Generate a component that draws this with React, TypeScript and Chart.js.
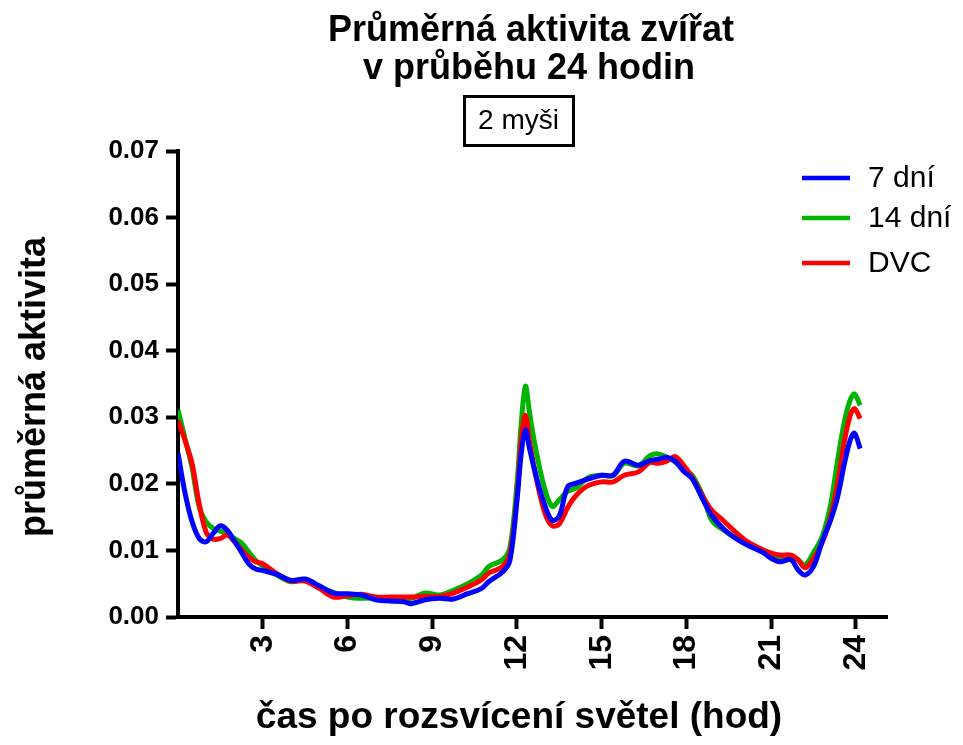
import React, { useEffect, useRef } from "react";
import { Chart, registerables } from "chart.js";

Chart.register(...registerables);

const FONT = "'Liberation Sans', Arial, Helvetica, sans-serif";

const TITLE_LINES = ["Průměrná aktivita zvířat", "v průběhu 24 hodin"];
const SUBTITLE = "2 myši";
const X_TITLE = "čas po rozsvícení světel (hod)";
const Y_TITLE = "průměrná aktivita";
const SERIES_LABELS = ["7 dní", "14 dní", "DVC"];
const SERIES_COLORS = ["#0000ff", "#00b400", "#ff0000"];

const X_TICKS = [3, 6, 9, 12, 15, 18, 21, 24];
const Y_TICKS = [0, 0.01, 0.02, 0.03, 0.04, 0.05, 0.06, 0.07];

const HOURS = [
  0, 0.25, 0.5, 0.75, 1.0, 1.25, 1.5, 1.75, 2.0, 2.25, 2.5, 2.75, 3.0, 3.5, 4.0, 4.5,
  5.0, 5.5, 6.0, 6.5, 7.0, 7.5, 8.0, 8.25, 8.75, 9.25, 9.75, 10.25, 10.75, 11.0, 11.5,
  11.75, 12.0, 12.15, 12.3, 12.45, 12.7, 13.0, 13.25, 13.5, 13.8, 14.1, 14.5, 15.0, 15.4,
  15.8, 16.3, 16.7, 17.0, 17.3, 17.6, 17.9, 18.2, 18.6, 18.9, 19.3, 19.75, 20.2, 20.7,
  21.0, 21.3, 21.7, 21.95, 22.2, 22.5, 22.8, 23.1, 23.35, 23.6, 23.8, 23.95, 24.15,
];

const DAYS7 = [
  0.0246, 0.0186, 0.0143, 0.0118, 0.0113, 0.0126, 0.0137, 0.013, 0.0114, 0.0097, 0.008,
  0.0072, 0.007, 0.0064, 0.0055, 0.0057, 0.0047, 0.0036, 0.0035, 0.0033, 0.0026, 0.0024,
  0.0023, 0.002, 0.0026, 0.0028, 0.0027, 0.0035, 0.0043, 0.0053, 0.0068, 0.0085, 0.0175,
  0.0245, 0.0281, 0.0252, 0.0208, 0.0166, 0.0145, 0.0152, 0.0196, 0.0201, 0.0207, 0.0213,
  0.0213, 0.0234, 0.0228, 0.0235, 0.0237, 0.024, 0.0234, 0.0219, 0.0208, 0.0175, 0.0152,
  0.0133, 0.0118, 0.0107, 0.0097, 0.0088, 0.0083, 0.0086, 0.0071, 0.0063, 0.0076, 0.0113,
  0.0145, 0.018, 0.0232, 0.0266, 0.0276, 0.0253,
];

const DAYS14 = [
  0.0311, 0.0268, 0.0224, 0.0165, 0.0143, 0.0133, 0.0129, 0.0124, 0.0118, 0.0111, 0.0098,
  0.0085, 0.0077, 0.0063, 0.0053, 0.0056, 0.0045, 0.0037, 0.003, 0.0028, 0.0029, 0.0028,
  0.0027, 0.0028, 0.0036, 0.0033, 0.004, 0.005, 0.0063, 0.0076, 0.0086, 0.0104, 0.02,
  0.029, 0.0347, 0.0305, 0.0245, 0.019, 0.0166, 0.0176, 0.0189, 0.0194, 0.0209, 0.0213,
  0.0212, 0.0231, 0.0227, 0.0242, 0.0245, 0.024, 0.0233, 0.0222, 0.0213, 0.018, 0.0145,
  0.0131, 0.0118, 0.0108, 0.0098, 0.0091, 0.0088, 0.0091, 0.0086, 0.0078, 0.0097, 0.012,
  0.0168, 0.0235, 0.0295, 0.0326, 0.0335, 0.0318,
];

const DVC = [
  0.0295, 0.0265, 0.023, 0.017, 0.0127, 0.0117, 0.0118, 0.0123, 0.0113, 0.0101, 0.009,
  0.0083, 0.008, 0.0065, 0.0054, 0.0054, 0.0043, 0.003, 0.0032, 0.0034, 0.003, 0.003,
  0.003, 0.003, 0.0031, 0.0031, 0.0036, 0.0045, 0.0056, 0.0066, 0.0076, 0.0095, 0.018,
  0.0266, 0.0303, 0.0262, 0.0205, 0.0155, 0.0137, 0.014, 0.0165, 0.0183, 0.0197, 0.0203,
  0.0203, 0.0213, 0.0218, 0.0232, 0.0231, 0.0234, 0.0241, 0.0228, 0.021, 0.018, 0.016,
  0.0145, 0.0127, 0.0112, 0.0101, 0.0096, 0.0093, 0.0093, 0.0086, 0.0074, 0.0088, 0.0111,
  0.015, 0.02, 0.0266, 0.0303, 0.0313, 0.0298,
];

const SERIES = [DAYS7, DAYS14, DVC];
const DRAW_ORDER = [0, 2, 1];

const decorPlugin = {
  id: "decor",
  afterDraw(chart: any) {
    const ctx = chart.ctx as CanvasRenderingContext2D;
    ctx.save();
    ctx.fillStyle = "#000";
    ctx.textAlign = "center";
    ctx.textBaseline = "alphabetic";
    ctx.font = `bold 36px ${FONT}`;
    ctx.fillText(TITLE_LINES[0], 531, 41);
    ctx.fillText(TITLE_LINES[1], 529, 79);

    // boxed subtitle
    ctx.font = `28px ${FONT}`;
    ctx.fillText(SUBTITLE, 518.5, 129);
    ctx.lineWidth = 3;
    ctx.strokeStyle = "#000";
    ctx.strokeRect(464.5, 96.5, 109, 49);

    // axis titles
    ctx.font = `bold 37px ${FONT}`;
    ctx.textBaseline = "middle";
    ctx.fillText(X_TITLE, 519, 718);
    ctx.save();
    ctx.translate(35, 387);
    ctx.rotate(-Math.PI / 2);
    ctx.font = `bold 36px ${FONT}`;
    ctx.fillText(Y_TITLE, 0, 0);
    ctx.restore();

    // legend
    const ys = [178, 218, 263];
    ctx.textAlign = "left";
    ctx.font = `30px ${FONT}`;
    SERIES_LABELS.forEach((lab, i) => {
      ctx.strokeStyle = SERIES_COLORS[i];
      ctx.lineWidth = 4.5;
      ctx.beginPath();
      ctx.moveTo(802, ys[i]);
      ctx.lineTo(850, ys[i]);
      ctx.stroke();
      ctx.fillStyle = "#000";
      ctx.fillText(lab, 868, ys[i] + 1);
    });
    ctx.restore();
  },
};

export default function App() {
  const ref = useRef<HTMLCanvasElement | null>(null);

  useEffect(() => {
    if (!ref.current) return;
    const datasets = SERIES.map((vals, i) => ({
      label: SERIES_LABELS[i],
      data: HOURS.map((h, j) => ({ x: h, y: vals[j] })),
      borderColor: SERIES_COLORS[i],
      backgroundColor: SERIES_COLORS[i],
      borderWidth: 5,
      pointRadius: 0,
      tension: 0.35,
      fill: false,
      order: DRAW_ORDER[i],
    }));
    const chart = new Chart(ref.current, {
      type: "line",
      data: { datasets },
      plugins: [decorPlugin],
      options: {
        responsive: false,
        animation: false,
        layout: { padding: { top: 151, right: 76, left: 0, bottom: 0 } },
        plugins: {
          legend: { display: false },
          title: { display: false },
          tooltip: { enabled: false },
        },
        scales: {
          x: {
            type: "linear",
            min: 0,
            max: 25.1,
            afterBuildTicks: (s: any) => {
              s.ticks = X_TICKS.map((v) => ({ value: v }));
            },
            afterFit: (s: any) => {
              s.height = 128;
            },
            grid: {
              display: true,
              drawOnChartArea: false,
              drawTicks: true,
              tickLength: 12,
              tickWidth: 4,
              tickColor: "#000",
            },
            border: { display: true, color: "#000", width: 4 },
            ticks: {
              autoSkip: false,
              minRotation: 90,
              maxRotation: 90,
              color: "#000",
              font: { family: FONT, size: 32, weight: "bold" as const },
              padding: 6,
              callback: (v: any) => String(v),
            },
          },
          y: {
            type: "linear",
            min: 0,
            max: 0.07,
            afterBuildTicks: (s: any) => {
              s.ticks = Y_TICKS.map((v) => ({ value: v }));
            },
            afterFit: (s: any) => {
              s.width = 178;
            },
            grid: {
              display: true,
              drawOnChartArea: false,
              drawTicks: true,
              tickLength: 12,
              tickWidth: 4,
              tickColor: "#000",
            },
            border: { display: true, color: "#000", width: 4 },
            ticks: {
              color: "#000",
              font: { family: FONT, size: 26, weight: "bold" as const },
              padding: 7,
              callback: (v: any) => Number(v).toFixed(2),
            },
          },
        },
      },
    });
    return () => chart.destroy();
  }, []);

  return (
    <div style={{ position: "absolute", left: 0, top: 0, width: 963, height: 745, background: "#fff" }}>
      <canvas ref={ref} width={963} height={745} />
    </div>
  );
}
